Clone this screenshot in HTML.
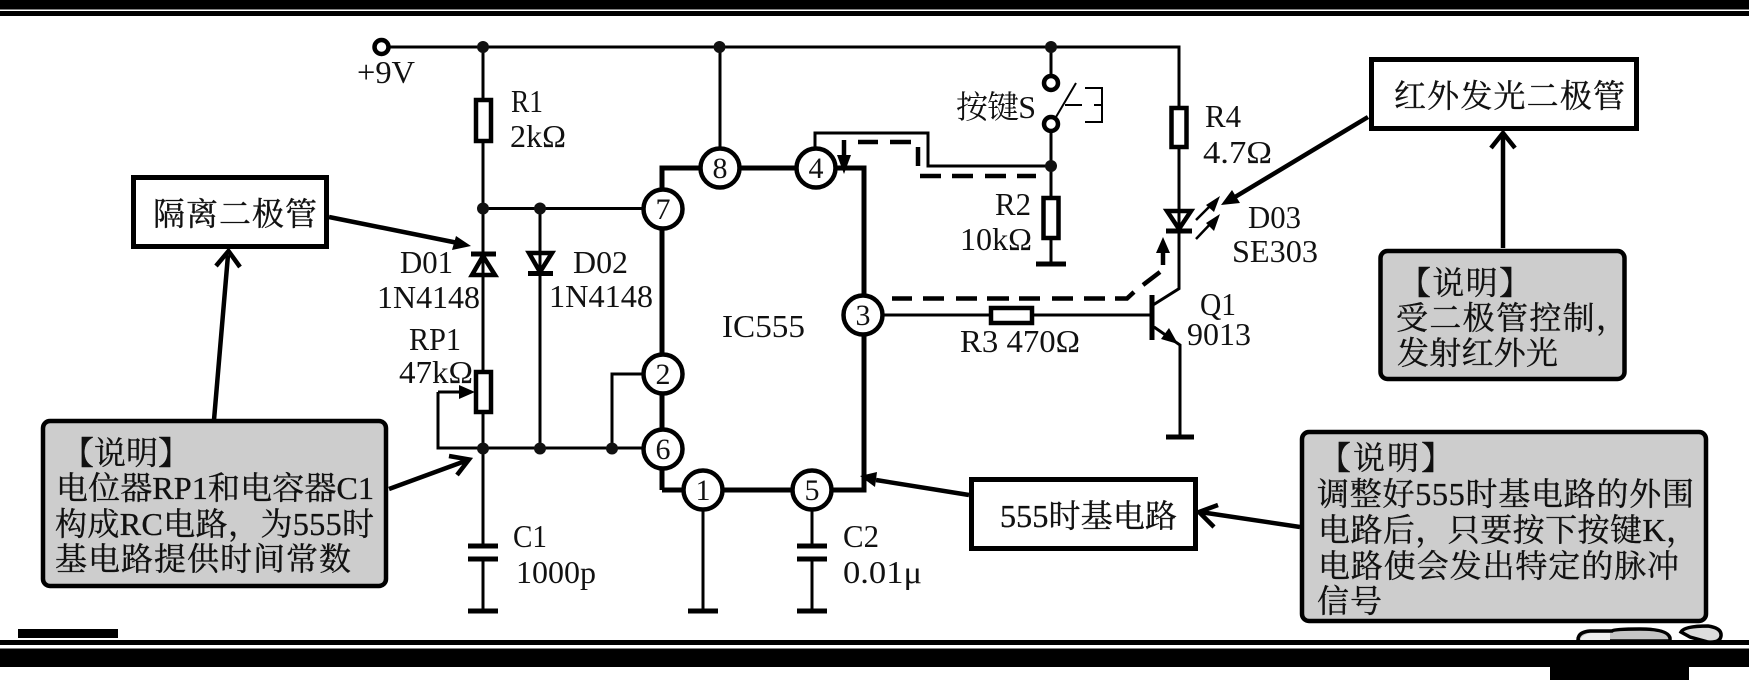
<!DOCTYPE html>
<html><head><meta charset="utf-8"><style>
html,body{margin:0;padding:0;background:#fff}
svg{display:block}
text{font-family:"Liberation Serif","Noto Serif CJK SC",serif;fill:#111;font-size:32px}
.c{font-size:32px;stroke:#111;stroke-width:.35px}
.p{font-size:30px;text-anchor:middle}
</style></head><body>
<svg width="1749" height="680" viewBox="0 0 1749 680" xmlns="http://www.w3.org/2000/svg">
<rect width="1749" height="680" fill="#fff"/>
<!-- frame bands -->
<rect x="0" y="0" width="1749" height="9.5" fill="#000"/>
<rect x="0" y="11" width="1749" height="5" fill="#000"/>
<rect x="18" y="629" width="100" height="9" fill="#000"/>
<rect x="0" y="640" width="1749" height="5" fill="#000"/>
<rect x="0" y="648.5" width="1749" height="18.5" fill="#000"/>
<rect x="1550" y="667" width="139" height="13" fill="#000"/>
<!-- blobs -->
<path d="M1578 640 Q1578 632 1590 631 L1612 631 Q1614 629 1640 629 Q1668 629 1670 638 L1670 641 L1578 641Z" fill="#c4c4c4" stroke="#000" stroke-width="3.5"/>
<path d="M1580 640 Q1582 634 1592 633 L1610 633 L1610 640Z" fill="#eee"/>
<path d="M1681 632 Q1684 626 1708 626 Q1722 628 1721 636 Q1720 643 1708 642 L1690 637Z" fill="#ddd" stroke="#000" stroke-width="3.5"/>

<g fill="none" stroke="#000" stroke-width="3">
<!-- rail -->
<path d="M389 47H1179V107"/>
<path d="M483 47V99M483 141V371M483 412V546M483 559V611"/>
<path d="M483 208.5H643"/>
<path d="M540 208.5V448"/>
<path d="M483 448H643"/>
<path d="M643 374H612V448"/>
<path d="M438 392H465M438 392V448H483"/>
<path d="M720 47V150"/>
<path d="M815 150V133H928V166H1051"/>
<path d="M1051 47V75M1051 132V197M1051 238V264"/>
<path d="M1179 147V288.7L1153 305"/>
<path d="M883 315H990M1032 315H1152"/>
<path d="M703 510V611M812 510V546M812 559V611"/>
<path d="M1154 327L1180 345V437"/>
</g>
<!-- IC body -->
<path d="M662 490V168H864V490H662" fill="none" stroke="#000" stroke-width="5"/>

<!-- junctions -->
<g fill="#111">
<circle cx="483" cy="47" r="6"/><circle cx="719.5" cy="47" r="6"/><circle cx="1051" cy="47" r="6"/>
<circle cx="483" cy="208.5" r="6"/><circle cx="540" cy="208.5" r="6"/>
<circle cx="483" cy="448.5" r="6"/><circle cx="540" cy="448.5" r="6"/><circle cx="612" cy="448.5" r="6"/>
<circle cx="1051" cy="166" r="6"/>
</g>

<!-- +9V terminal, switch -->
<g fill="#fff" stroke="#000" stroke-width="4.5">
<circle cx="381.5" cy="47" r="7"/>
<circle cx="1051" cy="83" r="7"/>
<circle cx="1051" cy="124" r="7"/>
</g>
<path d="M1056 117L1076 83M1065 105H1082M1085 88H1102V122H1085M1094 105H1102" fill="none" stroke="#000" stroke-width="2"/>

<!-- resistors -->
<g fill="#fff" stroke="#000" stroke-width="4.5">
<rect x="476" y="100" width="15" height="41"/>
<rect x="476" y="372" width="15" height="40"/>
<rect x="1043.5" y="198" width="15" height="40"/>
<rect x="1171.5" y="108" width="15" height="39"/>
<rect x="991" y="308" width="41" height="15"/>
</g>

<!-- capacitors and grounds -->
<g stroke="#000" stroke-width="5" fill="none">
<path d="M468 546H498M468 559H498M468 611H498"/>
<path d="M797 546H827M797 559H827M797 611H827"/>
<path d="M688 611H718"/>
<path d="M1036 264H1066"/>
<path d="M1166 437H1194"/>
<path d="M1152 295V340"/>
</g>

<!-- diodes -->
<g fill="#fff" stroke="#000" stroke-width="4.5">
<path d="M483 256L472 275H495Z"/>
<path d="M529 253H552L540 272Z"/>
<path d="M1167 211H1191L1179 229Z"/>
</g>
<path d="M471 254H496M528 273.5H553M1166 231H1192" stroke="#000" stroke-width="5" fill="none"/>
<path d="M483 254V276M540 251V273M1179 209V231" stroke="#000" stroke-width="3" fill="none"/>
<!-- arrows heads on circuit -->
<path d="M475 392L459 385V399Z" fill="#000"/>
<path d="M1178 344L1161 339L1169 328Z" fill="#000"/>
<!-- LED light arrows -->
<path d="M1196 220L1214 202M1196 239L1214 220" stroke="#000" stroke-width="2.5" fill="none"/>
<path d="M1220 196L1206 205L1214 212ZM1220 214L1206 223L1214 231Z" fill="#000"/>

<!-- dashed signal path -->
<g fill="none" stroke="#000" stroke-width="4.5">
<path d="M844 140V158"/>
<path d="M858 142H878M890 142H911"/>
<path d="M918 147V166"/>
<path d="M920 176H941M952 176H973M985 176H1006M1017 176H1036"/>
<path d="M892 298.5H912M923 298.5H944M956 298.5H977M987 298.5H1009M1019 298.5H1040M1052 298.5H1073M1084 298.5H1105M1115 298.5H1127L1134 292M1143 285L1160 272"/>
<path d="M1163 265V252"/>
</g>
<path d="M844 174L837 155H851Z" fill="#000"/>
<path d="M1163 237L1156 253H1170Z" fill="#000"/>

<!-- pins -->
<g fill="#fff" stroke="#000" stroke-width="4.5">
<circle cx="663" cy="209" r="19.5"/>
<circle cx="720" cy="168" r="19.5"/>
<circle cx="816" cy="168" r="19.5"/>
<circle cx="863" cy="315" r="19.5"/>
<circle cx="663" cy="374" r="19.5"/>
<circle cx="663" cy="449" r="19.5"/>
<circle cx="703" cy="490" r="19.5"/>
<circle cx="812" cy="490" r="19.5"/>
</g>
<text class="p" x="663" y="219">7</text>
<text class="p" x="720" y="178">8</text>
<text class="p" x="816" y="178">4</text>
<text class="p" x="863" y="325">3</text>
<text class="p" x="663" y="384">2</text>
<text class="p" x="663" y="459">6</text>
<text class="p" x="703" y="500">1</text>
<text class="p" x="812" y="500">5</text>

<!-- callout arrows -->
<g fill="none" stroke="#000" stroke-width="4.5">
<path d="M329 217L458 243"/>
<path d="M214 420L228 255M216 266L228.5 251L240 267"/>
<path d="M389 489L468 460M449 456L469 459.5L457 475"/>
<path d="M1368 117L1235 197"/>
<path d="M1503 248V133M1491 148L1503 133L1515 148"/>
<path d="M969 495L876 480"/>
<path d="M1300 527L1200 512M1218 505L1199 512L1214 527"/>
</g>
<path d="M471 246L452 250L456 236Z" fill="#000"/>
<path d="M1221 205L1232 190L1240 203Z" fill="#000"/>
<path d="M860 476L877 472L875 487Z" fill="#000"/>

<!-- boxes -->
<g fill="#fff" stroke="#000" stroke-width="5">
<rect x="133.5" y="177.5" width="193" height="69"/>
<rect x="1371.5" y="59.5" width="265" height="69"/>
<rect x="971.5" y="479.5" width="224" height="69"/>
</g>
<g fill="#cdcdcd" stroke="#000" stroke-width="4.5">
<rect x="43" y="421" width="343" height="165" rx="7"/>
<rect x="1380.5" y="251" width="244" height="128" rx="7"/>
<rect x="1302" y="432" width="404" height="189" rx="7"/>
</g>

<!-- box text -->
<text class="c" x="153" y="225" textLength="164" lengthAdjust="spacing">隔离二极管</text>
<text class="c" x="1394" y="107" textLength="231" lengthAdjust="spacing">红外发光二极管</text>
<text class="c" x="1000" y="527" textLength="177" lengthAdjust="spacing">555时基电路</text>

<text class="c" x="62" y="464" textLength="128" lengthAdjust="spacing">【说明】</text>
<text class="c" x="56" y="499" textLength="318" lengthAdjust="spacing">电位器RP1和电容器C1</text>
<text class="c" x="55" y="535" textLength="319" lengthAdjust="spacing">构成RC电路，为555时</text>
<text class="c" x="55" y="570" textLength="296" lengthAdjust="spacing">基电路提供时间常数</text>

<text class="c" x="1399" y="294" textLength="132" lengthAdjust="spacing">【说明】</text>
<text class="c" x="1396" y="329" textLength="232" lengthAdjust="spacing">受二极管控制，</text>
<text class="c" x="1397" y="364" textLength="161" lengthAdjust="spacing">发射红外光</text>

<text class="c" x="1319" y="469" textLength="134" lengthAdjust="spacing">【说明】</text>
<text class="c" x="1317" y="505" textLength="377" lengthAdjust="spacing">调整好555时基电路的外围</text>
<text class="c" x="1318" y="541" textLength="380" lengthAdjust="spacing">电路后，只要按下按键K，</text>
<text class="c" x="1318" y="577" textLength="361" lengthAdjust="spacing">电路使会发出特定的脉冲</text>
<text class="c" x="1317" y="612" textLength="65" lengthAdjust="spacing">信号</text>

<!-- labels -->
<text x="357" y="83" textLength="58" lengthAdjust="spacingAndGlyphs">+9V</text>
<text x="511" y="112" textLength="32" lengthAdjust="spacingAndGlyphs">R1</text>
<text x="510" y="147" textLength="56" lengthAdjust="spacingAndGlyphs">2kΩ</text>
<text x="400" y="273" textLength="53" lengthAdjust="spacingAndGlyphs">D01</text>
<text x="377" y="308" textLength="103" lengthAdjust="spacingAndGlyphs">1N4148</text>
<text x="573" y="273" textLength="55" lengthAdjust="spacingAndGlyphs">D02</text>
<text x="549" y="307" textLength="104" lengthAdjust="spacingAndGlyphs">1N4148</text>
<text x="409" y="350" textLength="52" lengthAdjust="spacingAndGlyphs">RP1</text>
<text x="399" y="383" textLength="74" lengthAdjust="spacingAndGlyphs">47kΩ</text>
<text x="513" y="547" textLength="34" lengthAdjust="spacingAndGlyphs">C1</text>
<text x="516" y="583" textLength="80" lengthAdjust="spacingAndGlyphs">1000p</text>
<text x="722" y="337" textLength="83" lengthAdjust="spacingAndGlyphs">IC555</text>
<text x="956" y="118" textLength="80" lengthAdjust="spacing">按键S</text>
<text x="995" y="215" textLength="36" lengthAdjust="spacingAndGlyphs">R2</text>
<text x="960" y="250" textLength="72" lengthAdjust="spacingAndGlyphs">10kΩ</text>
<text x="960" y="352" textLength="120" lengthAdjust="spacingAndGlyphs">R3 470Ω</text>
<text x="1205" y="127" textLength="36" lengthAdjust="spacingAndGlyphs">R4</text>
<text x="1203" y="163" textLength="69" lengthAdjust="spacingAndGlyphs">4.7Ω</text>
<text x="1248" y="228" textLength="53" lengthAdjust="spacingAndGlyphs">D03</text>
<text x="1232" y="262" textLength="86" lengthAdjust="spacingAndGlyphs">SE303</text>
<text x="1200" y="315" textLength="36" lengthAdjust="spacingAndGlyphs">Q1</text>
<text x="1187" y="345" textLength="64" lengthAdjust="spacingAndGlyphs">9013</text>
<text x="843" y="547" textLength="36" lengthAdjust="spacingAndGlyphs">C2</text>
<text x="843" y="583" textLength="79" lengthAdjust="spacingAndGlyphs">0.01μ</text>
</svg>
</body></html>
